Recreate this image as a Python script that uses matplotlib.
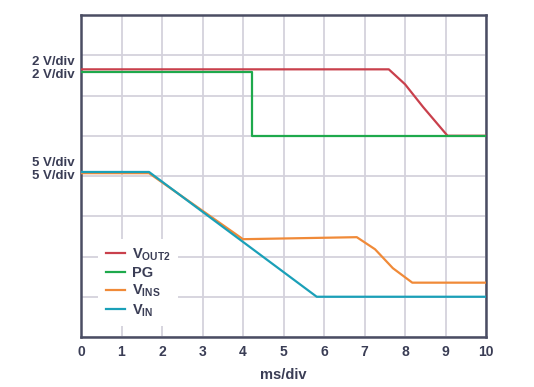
import matplotlib
matplotlib.use("Agg")
import matplotlib.pyplot as plt
from matplotlib.transforms import blended_transform_factory

plt.rcParams['font.family'] = ['Liberation Sans', 'DejaVu Sans']
plt.rcParams['mathtext.fontset'] = 'custom'
plt.rcParams['mathtext.rm'] = 'Liberation Sans:bold'
plt.rcParams['mathtext.it'] = 'Liberation Sans:bold'
plt.rcParams['mathtext.bf'] = 'Liberation Sans:bold'

# data (x in ms/div, y in divisions)
vout2_x = [0, 7.6, 8.0, 8.45, 9.05, 10]
vout2_y = [6.65, 6.65, 6.28, 5.71, 5.0, 5.0]
pg_x = [0, 4.22, 4.22, 10]
pg_y = [6.58, 6.58, 5.0, 5.0]
vins_x = [0, 1.68, 4.0, 6.81, 7.26, 7.7, 8.18, 10]
vins_y = [4.07, 4.07, 2.43, 2.48, 2.18, 1.71, 1.35, 1.35]
vin_x = [0, 1.68, 5.82, 10]
vin_y = [4.1, 4.1, 1.0, 1.0]

xticks = list(range(0, 11))
scale_labels = ["2 V/div", "2 V/div", "5 V/div", "5 V/div"]
scale_label_y = [6.83, 6.51, 4.32, 4.0]

c_text = '#3a3d55'
fig = plt.figure(figsize=(5.34, 3.87), dpi=100)
ax = fig.add_axes([81/534, 50/387, 405/534, 322/387])

ax.plot(vout2_x, vout2_y, color='#c9404c', lw=1.6, label=r'V$_{\mathrm{OUT2}}$', zorder=4)
ax.plot(pg_x, pg_y, color='#1ea94c', lw=1.6, label='PG', zorder=5)
ax.plot(vins_x, vins_y, color='#f08a38', lw=1.6, label=r'V$_{\mathrm{INS}}$', zorder=4)
ax.plot(vin_x, vin_y, color='#1aa0b8', lw=1.6, label=r'V$_{\mathrm{IN}}$', zorder=5)

ax.set_xlim(0, 10)
ax.set_ylim(0, 8)
ax.set_xticks(xticks)
ax.set_xticklabels([str(t) for t in xticks], fontsize=10, fontweight='bold', color=c_text)
ax.set_yticks(range(0, 9))
ax.set_yticklabels([])
ax.tick_params(length=0, pad=6)
ax.grid(True, color='#d4d2dc', lw=1.3)
ax.set_axisbelow(True)
for s in ax.spines.values():
    s.set_color('#4a4d63')
    s.set_linewidth(1.8)
ax.set_xlabel('ms/div', fontsize=10.5, fontweight='bold', color=c_text, labelpad=6)

tr = blended_transform_factory(fig.transFigure, ax.transData)
for lab, yy in zip(scale_labels, scale_label_y):
    ax.text(75/534, yy, lab, transform=tr, ha='right', va='center',
            fontsize=9.5, fontweight='bold', color=c_text)

leg = ax.legend(loc='upper left', bbox_to_anchor=(91/534, 1 - 232/387),
                bbox_transform=fig.transFigure, frameon=True, fancybox=False,
                facecolor='white', edgecolor='none', framealpha=1,
                handlelength=1.3, handletextpad=0.5, labelspacing=0.2,
                borderpad=0.5, prop={'size': 10.5, 'weight': 'bold'})
for t in leg.get_texts():
    t.set_color(c_text)

fig.savefig('out.png', dpi=100)
